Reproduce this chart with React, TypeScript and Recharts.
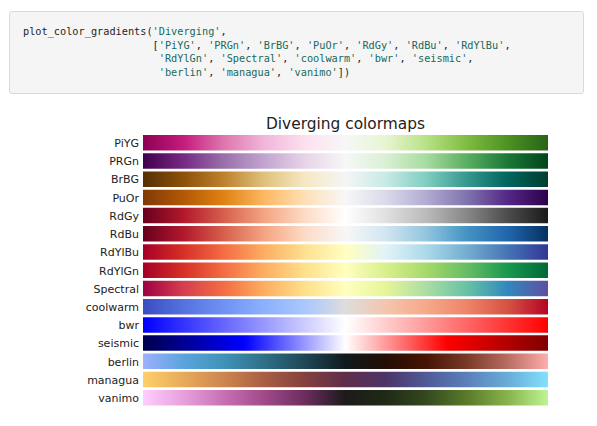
import { BarChart, Bar, XAxis, YAxis, Cell } from 'recharts';

const cmapNames = [
  'PiYG', 'PRGn', 'BrBG', 'PuOr', 'RdGy', 'RdBu', 'RdYlBu',
  'RdYlGn', 'Spectral', 'coolwarm', 'bwr', 'seismic',
  'berlin', 'managua', 'vanimo',
];

// every row spans the full [0, 1] range
const barValues = [1, 1, 1, 1, 1, 1, 1, 1, 1, 1, 1, 1, 1, 1, 1];

// colour stops, evenly spaced from 0 to 1
const cmapStops: Record<string, string[]> = {
  PiYG: ['#8e0152', '#c51b7d', '#de77ae', '#f1b6da', '#fde0ef', '#f7f7f7', '#e6f5d0', '#b8e186', '#7fbc41', '#4d9221', '#276419'],
  PRGn: ['#40004b', '#762a83', '#9970ab', '#c2a5cf', '#e7d4e8', '#f7f7f7', '#d9f0d3', '#a6dba0', '#5aae61', '#1b7837', '#00441b'],
  BrBG: ['#543005', '#8c510a', '#bf812d', '#dfc27d', '#f6e8c3', '#f5f5f5', '#c7eae5', '#80cdc1', '#35978f', '#01665e', '#003c30'],
  PuOr: ['#7f3b08', '#b35806', '#e08214', '#fdb863', '#fee0b6', '#f7f7f7', '#d8daeb', '#b2abd2', '#8073ac', '#542788', '#2d004b'],
  RdGy: ['#67001f', '#b2182b', '#d6604d', '#f4a582', '#fddbc7', '#ffffff', '#e0e0e0', '#bababa', '#878787', '#4d4d4d', '#1a1a1a'],
  RdBu: ['#67001f', '#b2182b', '#d6604d', '#f4a582', '#fddbc7', '#f7f7f7', '#d1e5f0', '#92c5de', '#4393c3', '#2166ac', '#053061'],
  RdYlBu: ['#a50026', '#d73027', '#f46d43', '#fdae61', '#fee090', '#ffffbf', '#e0f3f8', '#abd9e9', '#74add1', '#4575b4', '#313695'],
  RdYlGn: ['#a50026', '#d73027', '#f46d43', '#fdae61', '#fee08b', '#ffffbf', '#d9ef8b', '#a6d96a', '#66bd63', '#1a9850', '#006837'],
  Spectral: ['#9e0142', '#d53e4f', '#f46d43', '#fdae61', '#fee08b', '#ffffbf', '#e6f598', '#abdda4', '#66c2a5', '#3288bd', '#5e4fa2'],
  coolwarm: ['#3b4cc0', '#5572df', '#6f92f3', '#8db0fe', '#aac7fd', '#dddddd', '#f4c5ad', '#f7a889', '#ee8468', '#d65244', '#b40426'],
  bwr: ['#0000ff', '#ffffff', '#ff0000'],
  seismic: ['#00004c', '#0000ff', '#ffffff', '#ff0000', '#800000'],
  berlin: ['#9eb0ff', '#5aa4dc', '#3f92b8', '#2f6f88', '#1e4756', '#111a1e', '#240d03', '#461404', '#7a3a28', '#b86c62', '#ffadad'],
  managua: ['#ffcf6a', '#e8aa5a', '#cc854f', '#a85e44', '#83403e', '#5f2d4a', '#4c3468', '#4f5b98', '#5b80ba', '#69acd8', '#82e1fc'],
  vanimo: ['#ffcdfd', '#e7a0dc', '#c86fb4', '#a04a88', '#6b2d5e', '#1c1a1b', '#1f2a15', '#34491e', '#5a7b2b', '#88b34b', '#bef594'],
};

const data = cmapNames.map((name, i) => ({ name, value: barValues[i] }));

const codeLines = [
  ["plot_color_gradients(", "'Diverging'", ","],
  ["                     [", "'PiYG'", ", ", "'PRGn'", ", ", "'BrBG'", ", ", "'PuOr'", ", ", "'RdGy'", ", ", "'RdBu'", ", ", "'RdYlBu'", ","],
  ["                      ", "'RdYlGn'", ", ", "'Spectral'", ", ", "'coolwarm'", ", ", "'bwr'", ", ", "'seismic'", ","],
  ["                      ", "'berlin'", ", ", "'managua'", ", ", "'vanimo'", "])"],
];

export default function App() {
  return (
    <div style={{ position: 'absolute', left: 0, top: 0, width: 597, height: 426, background: '#fff' }}>
      <div
        style={{
          position: 'absolute', left: 9, top: 11, width: 573, height: 81,
          background: '#f5f5f5', border: '1px solid #dadada', borderRadius: 3,
        }}
      >
        <pre
          style={{
            position: 'absolute', left: 13, top: 13, margin: 0,
            fontFamily: '"DejaVu Sans Mono", monospace', fontSize: 10.25, lineHeight: '13.6px', color: '#1f1f1f',
          }}
        >
          {codeLines.map((parts, li) => (
            <div key={li}>
              {parts.map((p, pi) => (
                <span key={pi} style={{ color: p.startsWith("'") ? '#17695a' : '#1f1f1f' }}>{p}</span>
              ))}
            </div>
          ))}
        </pre>
      </div>

      <div
        style={{
          position: 'absolute', left: 143, top: 115, width: 405, textAlign: 'center',
          fontFamily: '"DejaVu Sans", sans-serif', fontSize: 15.4, lineHeight: '18px', color: '#222',
        }}
      >
        Diverging colormaps
      </div>

      <div style={{ position: 'absolute', left: 0, top: 0 }}>
        <BarChart
          width={597}
          height={426}
          data={data}
          layout="vertical"
          margin={{ top: 134, right: 49, bottom: 18.8, left: 0 }}
        >
          <defs>
            {cmapNames.map((name) => {
              const stops = cmapStops[name];
              return (
                <linearGradient key={name} id={`grad-${name}`} x1="0" y1="0" x2="1" y2="0">
                  {stops.map((c, i) => (
                    <stop key={i} offset={`${(i / (stops.length - 1)) * 100}%`} stopColor={c} />
                  ))}
                </linearGradient>
              );
            })}
          </defs>
          <XAxis type="number" domain={[0, 1]} hide />
          <YAxis
            type="category"
            dataKey="name"
            width={143}
            interval={0}
            tickLine={false}
            axisLine={false}
            tickSize={0}
            tickMargin={4}
            tick={{ fontSize: 11, fill: '#222', fontFamily: '"DejaVu Sans", sans-serif' }}
          />
          <Bar dataKey="value" barSize={15.5} isAnimationActive={false}>
            {data.map((d) => (
              <Cell key={d.name} fill={`url(#grad-${d.name})`} />
            ))}
          </Bar>
        </BarChart>
      </div>
    </div>
  );
}
